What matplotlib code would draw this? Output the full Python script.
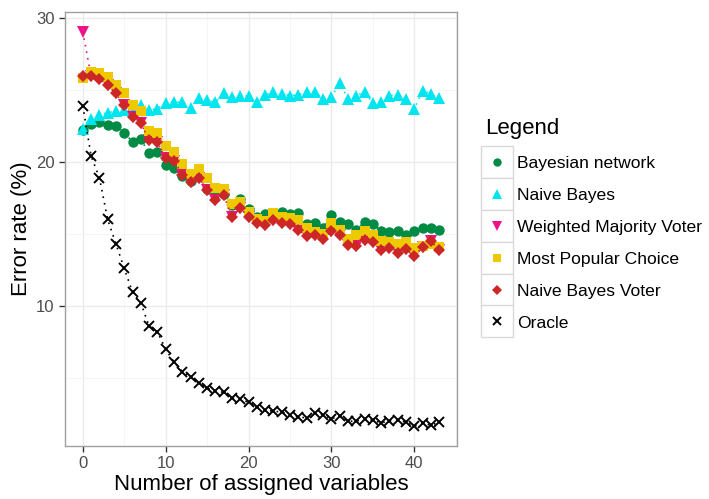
import matplotlib
matplotlib.use("Agg")
import matplotlib.pyplot as plt
from matplotlib.lines import Line2D
from matplotlib.patches import Rectangle

plt.rcParams["font.family"] = ["Liberation Sans", "DejaVu Sans"]

steps = list(range(44))

bayesian_network = [22.23, 22.64, 22.8, 22.53, 22.46, 22.0, 21.4, 21.56, 20.6, 20.65,
                    19.8, 19.55, 19.02, 18.65, 19.0, 18.1, 17.9, 17.75, 16.99, 17.42,
                    16.75, 16.18, 16.35, 16.4, 16.53, 16.41, 16.46, 15.67, 15.77, 15.38,
                    16.34, 15.83, 15.67, 15.3, 15.83, 15.72, 15.21, 15.14, 15.19, 14.91,
                    15.19, 15.38, 15.38, 15.26]

naive_bayes = [22.3, 23.0, 23.27, 23.4, 23.54, 23.6, 23.5, 23.96, 23.6, 23.68,
               24.1, 24.14, 24.14, 23.77, 24.44, 24.26, 24.14, 24.79, 24.49, 24.6,
               24.56, 24.14, 24.65, 24.83, 24.72, 24.6, 24.65, 24.83, 24.83, 24.37,
               24.53, 25.45, 24.37, 24.6, 24.83, 24.07, 24.14, 24.6, 24.65, 24.37,
               23.68, 24.95, 24.72, 24.44]

naive_bayes_voter = [25.99, 25.94, 25.76, 25.3, 24.75, 23.98, 23.12, 22.68, 21.49, 21.37,
                     20.25, 20.08, 19.1, 18.6, 18.9, 18.03, 17.34, 17.68, 16.18, 16.8,
                     16.15, 15.78, 15.6, 15.95, 15.77, 15.67, 15.26, 14.87, 14.91, 14.68,
                     15.21, 14.91, 14.22, 14.15, 14.57, 14.45, 13.88, 13.99, 13.69, 13.92,
                     13.46, 14.06, 14.5, 13.88]

weighted_majority_voter = [29.03, 25.94, 25.76, 25.3, 24.75, 23.98, 23.12, 22.68, 21.49, 21.37,
                           20.25, 20.08, 19.1, 18.6, 18.9, 18.03, 17.34, 17.68, 16.18, 16.8,
                           16.15, 15.78, 15.6, 15.95, 15.77, 15.67, 15.26, 14.87, 14.91, 14.68,
                           15.21, 14.91, 14.22, 14.15, 14.57, 14.45, 13.88, 13.99, 13.69, 13.92,
                           13.46, 14.06, 14.5, 13.88]

most_popular_choice = [25.8, 26.26, 26.2, 25.87, 25.36, 24.79, 23.96, 23.5, 22.13, 22.0,
                       21.1, 20.66, 19.87, 19.18, 19.5, 18.9, 18.2, 18.12, 17.1, 17.2,
                       16.5, 16.0, 15.9, 16.46, 16.2, 16.1, 15.95, 15.38, 15.14, 15.0,
                       15.77, 15.3, 14.68, 14.91, 15.19, 14.91, 14.5, 14.45, 14.29, 14.45,
                       13.99, 14.15, 14.29, 14.06]

oracle = [23.9, 20.4, 18.9, 16.0, 14.3, 12.6, 10.95, 10.2, 8.6, 8.2,
          7.0, 6.1, 5.45, 5.05, 4.65, 4.3, 4.1, 4.0, 3.6, 3.54,
          3.3, 3.0, 2.76, 2.69, 2.64, 2.4, 2.3, 2.23, 2.57, 2.46,
          2.16, 2.39, 2.0, 2.0, 2.16, 2.06, 1.88, 2.04, 2.06, 1.93,
          1.65, 1.88, 1.72, 1.93]

series = [
    ("Bayesian network", bayesian_network, "#008B45", "o", 7.5),
    ("Naive Bayes", naive_bayes, "#00E5EE", "^", 8.5),
    ("Weighted Majority Voter", weighted_majority_voter, "#EE1289", "v", 8.5),
    ("Most Popular Choice", most_popular_choice, "#EEC900", "s", 6.8),
    ("Naive Bayes Voter", naive_bayes_voter, "#CD2626", "D", 6.3),
    ("Oracle", oracle, "black", "x", 6.5),
]

fig = plt.figure(figsize=(7.09, 4.99), dpi=100)
ax = fig.add_axes([65 / 709, 1 - 446 / 499, 392 / 709, 434 / 499])

handles = []
for name, values, color, marker, size in series:
    ax.plot(steps, values, linestyle=(0, (1, 3)), linewidth=1.2, color=color)
    if marker == "x":
        ax.plot(steps, values, linestyle="none", marker=marker, markersize=size,
                markeredgewidth=1.4, color=color)
    else:
        ax.plot(steps, values, linestyle="none", marker=marker, markersize=size,
                markeredgewidth=0, color=color)
    handles.append(Line2D([], [], linestyle="none", marker=marker, color=color,
                          markersize=size * 0.8,
                          markeredgewidth=1.4 if marker == "x" else 0,
                          label=name))

ax.set_xlim(-2.15, 45.15)
ax.set_ylim(0.28, 30.4)
ax.set_xticks([0, 10, 20, 30, 40])
ax.set_yticks([10, 20, 30])
ax.set_xticks([5, 15, 25, 35, 45], minor=True)
ax.set_yticks([5, 15, 25], minor=True)
ax.grid(True, which="major", color="#EBEBEB", linewidth=1.0)
ax.grid(True, which="minor", color="#F4F4F4", linewidth=0.6)
ax.set_axisbelow(True)
ax.tick_params(which="major", length=4, width=1, color="#333333",
               labelcolor="#4D4D4D", labelsize=12)
ax.tick_params(which="minor", length=0)
for spine in ax.spines.values():
    spine.set_color("#A0A0A0")
    spine.set_linewidth(1.0)

ax.set_xlabel("Number of assigned variables", fontsize=16, labelpad=2)
ax.set_ylabel("Error rate (%)", fontsize=16, labelpad=3)

leg = fig.legend(handles=handles, loc="upper left",
                 bbox_to_anchor=(473 / 709, 1 - 106 / 499),
                 frameon=False, fontsize=12.6, title="Legend", title_fontsize=16,
                 handlelength=1.3, handletextpad=0.5, labelspacing=0.95,
                 borderpad=0.2, alignment="left")

fig.canvas.draw()
renderer = fig.canvas.get_renderer()
inv = fig.transFigure.inverted()
for h in leg.legend_handles:
    bb = h.get_window_extent(renderer)
    cx = (bb.x0 + bb.x1) / 2
    cy = (bb.y0 + bb.y1) / 2
    x0, y0 = inv.transform((cx - 16, cy - 16))
    x1, y1 = inv.transform((cx + 16, cy + 16))
    fig.patches.append(Rectangle((x0, y0), x1 - x0, y1 - y0, transform=fig.transFigure,
                                 facecolor="white", edgecolor="#D9D9D9", linewidth=1.0,
                                 zorder=-1))

fig.savefig("out.png", dpi=100)
